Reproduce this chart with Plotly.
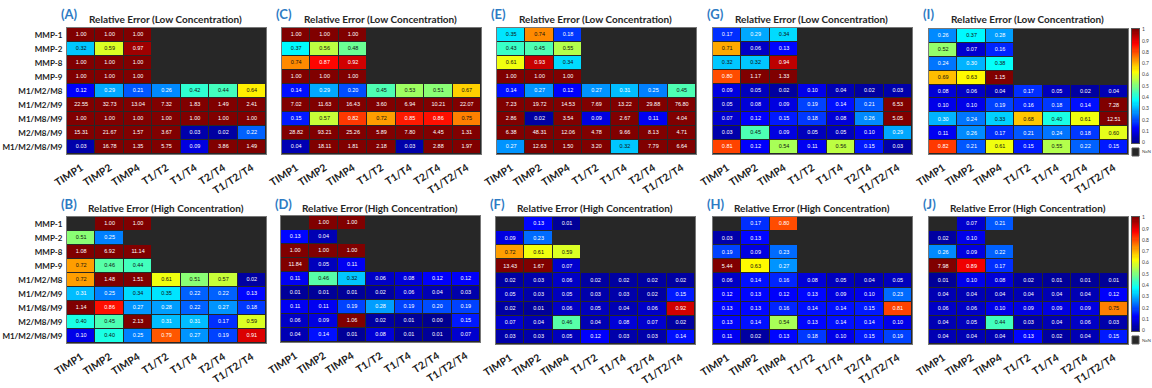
import plotly.graph_objects as go

W, H = 1152, 388

rows = ["MMP-1", "MMP-2", "MMP-8", "MMP-9", "M1/M2/M8", "M1/M2/M9",
        "M1/M8/M9", "M2/M8/M9", "M1/M2/M8/M9"]
cols = ["TIMP1", "TIMP2", "TIMP4", "T1/T2", "T1/T4", "T2/T4", "T1/T2/T4"]
N = None

panel_A = [
    [1.00, 1.00, 1.00, N, N, N, N],
    [0.32, 0.59, 0.97, N, N, N, N],
    [1.00, 1.00, 1.00, N, N, N, N],
    [1.00, 1.00, 1.00, N, N, N, N],
    [0.12, 0.29, 0.21, 0.26, 0.42, 0.44, 0.64],
    [22.55, 32.73, 13.04, 7.32, 1.83, 1.49, 2.41],
    [1.00, 1.00, 1.00, 1.00, 1.00, 1.00, 1.00],
    [15.31, 21.67, 1.57, 3.67, 0.03, 0.02, 0.22],
    [0.03, 16.78, 1.35, 5.75, 0.09, 3.86, 1.49],
]
panel_C = [
    [1.00, 1.00, 1.00, N, N, N, N],
    [0.37, 0.56, 0.48, N, N, N, N],
    [0.74, 0.87, 0.92, N, N, N, N],
    [1.00, 1.00, 1.00, N, N, N, N],
    [0.14, 0.29, 0.20, 0.45, 0.53, 0.51, 0.67],
    [7.02, 11.63, 16.43, 3.60, 6.94, 10.21, 22.07],
    [0.15, 0.57, 0.82, 0.72, 0.85, 0.86, 0.75],
    [28.82, 93.21, 25.26, 5.89, 7.80, 4.45, 1.31],
    [0.04, 18.11, 1.81, 2.18, 0.03, 2.88, 1.97],
]
panel_E = [
    [0.35, 0.74, 0.18, N, N, N, N],
    [0.43, 0.45, 0.55, N, N, N, N],
    [0.61, 0.93, 0.34, N, N, N, N],
    [1.00, 1.00, 1.00, N, N, N, N],
    [0.14, 0.27, 0.12, 0.27, 0.31, 0.25, 0.45],
    [7.23, 19.72, 14.53, 7.69, 13.22, 29.88, 76.80],
    [2.86, 0.02, 3.54, 0.09, 2.67, 0.11, 4.04],
    [6.38, 48.31, 12.06, 4.78, 9.66, 8.13, 4.71],
    [0.27, 12.63, 1.50, 3.20, 0.32, 7.79, 6.64],
]
panel_G = [
    [0.17, 0.29, 0.34, N, N, N, N],
    [0.71, 0.06, 0.13, N, N, N, N],
    [0.32, 0.32, 0.94, N, N, N, N],
    [0.80, 1.17, 1.33, N, N, N, N],
    [0.09, 0.05, 0.02, 0.10, 0.04, 0.02, 0.03],
    [0.05, 0.08, 0.09, 0.19, 0.14, 0.21, 6.53],
    [0.07, 0.12, 0.15, 0.18, 0.08, 0.26, 5.05],
    [0.03, 0.45, 0.09, 0.05, 0.05, 0.10, 0.29],
    [0.81, 0.12, 0.54, 0.11, 0.56, 0.15, 0.03],
]
panel_I = [
    [0.26, 0.37, 0.28, N, N, N, N],
    [0.52, 0.07, 0.16, N, N, N, N],
    [0.24, 0.30, 0.38, N, N, N, N],
    [0.69, 0.63, 1.15, N, N, N, N],
    [0.08, 0.06, 0.04, 0.17, 0.05, 0.02, 0.04],
    [0.10, 0.10, 0.19, 0.16, 0.18, 0.14, 7.28],
    [0.30, 0.24, 0.33, 0.68, 0.40, 0.61, 12.51],
    [0.11, 0.26, 0.17, 0.21, 0.24, 0.18, 0.60],
    [0.82, 0.21, 0.61, 0.15, 0.55, 0.22, 0.15],
]
panel_B = [
    [N, 1.00, 1.00, N, N, N, N],
    [0.51, 0.25, N, N, N, N, N],
    [1.08, 6.92, 11.14, N, N, N, N],
    [0.72, 0.46, 0.44, N, N, N, N],
    [0.72, 1.48, 1.51, 0.61, 0.51, 0.57, 0.02],
    [0.31, 0.25, 0.34, 0.35, 0.22, 0.22, 0.13],
    [1.14, 0.86, 0.27, 0.28, 0.22, 0.27, 0.18],
    [0.40, 0.45, 2.13, 0.31, 0.31, 0.17, 0.59],
    [0.10, 0.40, 0.25, 0.79, 0.27, 0.19, 0.91],
]
panel_D = [
    [N, 1.00, 1.00, N, N, N, N],
    [0.13, 0.04, N, N, N, N, N],
    [1.00, 1.00, 1.00, N, N, N, N],
    [11.84, 0.05, 0.11, N, N, N, N],
    [0.11, 0.46, 0.32, 0.06, 0.08, 0.12, 0.12],
    [0.01, 0.01, 0.01, 0.02, 0.06, 0.04, 0.03],
    [0.11, 0.11, 0.19, 0.28, 0.19, 0.20, 0.19],
    [0.06, 0.09, 1.06, 0.02, 0.01, 0.00, 0.15],
    [0.04, 0.14, 0.01, 0.08, 0.01, 0.01, 0.07],
]
panel_F = [
    [N, 0.13, 0.01, N, N, N, N],
    [0.09, 0.23, N, N, N, N, N],
    [0.72, 0.61, 0.59, N, N, N, N],
    [13.43, 1.67, 0.07, N, N, N, N],
    [0.02, 0.03, 0.06, 0.02, 0.02, 0.02, 0.02],
    [0.05, 0.03, 0.05, 0.03, 0.03, 0.02, 0.15],
    [0.02, 0.01, 0.06, 0.05, 0.04, 0.06, 0.92],
    [0.07, 0.04, 0.46, 0.04, 0.08, 0.07, 0.02],
    [0.03, 0.03, 0.05, 0.12, 0.03, 0.03, 0.14],
]
panel_H = [
    [N, 0.17, 0.80, N, N, N, N],
    [0.03, 0.13, N, N, N, N, N],
    [0.19, 0.09, 0.23, N, N, N, N],
    [5.44, 0.63, 0.27, N, N, N, N],
    [0.06, 0.14, 0.16, 0.08, 0.05, 0.04, 0.05],
    [0.12, 0.13, 0.12, 0.13, 0.09, 0.10, 0.23],
    [0.13, 0.13, 0.16, 0.14, 0.14, 0.15, 0.81],
    [0.13, 0.14, 0.54, 0.13, 0.14, 0.14, 0.10],
    [0.11, 0.02, 0.13, 0.18, 0.10, 0.15, 0.19],
]
panel_J = [
    [N, 0.07, 0.21, N, N, N, N],
    [0.02, 0.10, N, N, N, N, N],
    [0.26, 0.09, 0.22, N, N, N, N],
    [7.98, 0.89, 0.17, N, N, N, N],
    [0.01, 0.10, 0.08, 0.02, 0.01, 0.01, 0.01],
    [0.04, 0.04, 0.04, 0.04, 0.04, 0.04, 0.12],
    [0.06, 0.06, 0.10, 0.09, 0.09, 0.09, 0.75],
    [0.04, 0.05, 0.44, 0.03, 0.04, 0.06, 0.03],
    [0.04, 0.04, 0.04, 0.13, 0.02, 0.04, 0.15],
]

cb_ticks = [0, 0.1, 0.2, 0.3, 0.4, 0.5, 0.6, 0.7, 0.8, 0.9, 1]

# (letter, title, data, x pixel range, y pixel range, show y labels, show colorbar)
panels = [
    ("(A)", "Relative Error (Low Concentration)", panel_A, (67, 266), (28, 154), True, False),
    ("(C)", "Relative Error (Low Concentration)", panel_C, (282, 481), (28, 154), False, False),
    ("(E)", "Relative Error (Low Concentration)", panel_E, (497, 696), (28, 154), False, False),
    ("(G)", "Relative Error (Low Concentration)", panel_G, (713, 912), (28, 154), False, False),
    ("(I)", "Relative Error (Low Concentration)", panel_I, (929, 1128), (29, 154), False, True),
    ("(B)", "Relative Error (High Concentration)", panel_B, (67, 266), (217, 343), True, False),
    ("(D)", "Relative Error (High Concentration)", panel_D, (281, 480), (216, 342), False, False),
    ("(F)", "Relative Error (High Concentration)", panel_F, (496, 695), (217, 344), False, False),
    ("(H)", "Relative Error (High Concentration)", panel_H, (713, 912), (217, 344), False, False),
    ("(J)", "Relative Error (High Concentration)", panel_J, (929, 1128), (217, 344), False, True),
]

jet = [
    [0.0, "rgb(0,0,143)"],
    [0.125, "rgb(0,0,255)"],
    [0.375, "rgb(0,255,255)"],
    [0.625, "rgb(255,255,0)"],
    [0.875, "rgb(255,0,0)"],
    [1.0, "rgb(128,0,0)"],
]


def jet_rgb(v):
    v = max(0.0, min(1.0, v))
    for (p0, c0), (p1, c1) in zip(jet[:-1], jet[1:]):
        if p0 <= v <= p1:
            a = [int(x) for x in c0[4:-1].split(",")]
            b = [int(x) for x in c1[4:-1].split(",")]
            t = (v - p0) / (p1 - p0)
            return [a[i] + (b[i] - a[i]) * t for i in range(3)]
    return [128, 0, 0]


NAN_COLOR = "#272727"
FONT = "Lato"
CB_X = 1132

fig = go.Figure()
layout = dict(
    width=W, height=H, margin=dict(l=0, r=0, t=0, b=0, autoexpand=False),
    paper_bgcolor="white", plot_bgcolor=NAN_COLOR, showlegend=False,
    annotations=[], shapes=[],
)

for i, (letter, title, data, xr, yr, ylab, cbar) in enumerate(panels):
    k = i + 1
    xa = "x" if k == 1 else f"x{k}"
    ya = "y" if k == 1 else f"y{k}"
    xd = [xr[0] / W, xr[1] / W]
    yd = [1 - yr[1] / H, 1 - yr[0] / H]

    fig.add_trace(go.Heatmap(
        z=data, x=cols, y=rows, xaxis=xa, yaxis=ya,
        zmin=0, zmax=1, colorscale=jet, xgap=1, ygap=1,
        hoverongaps=False, showscale=False,
    ))

    tx, ty, tt, tc = [], [], [], []
    for r, row in enumerate(data):
        for c, v in enumerate(row):
            if v is None:
                continue
            rgb = jet_rgb(v)
            lum = (0.299 * rgb[0] + 0.587 * rgb[1] + 0.114 * rgb[2]) / 255
            tx.append(cols[c])
            ty.append(rows[r])
            tt.append(f"{v:.2f}")
            tc.append("#111" if lum > 0.55 else "white")
    fig.add_trace(go.Scatter(
        x=tx, y=ty, text=tt, mode="text", xaxis=xa, yaxis=ya,
        textfont=dict(size=5.5, color=tc, family="Liberation Sans"),
        hoverinfo="skip",
    ))

    layout["xaxis" if k == 1 else f"xaxis{k}"] = dict(
        domain=xd, anchor=ya, type="category", range=[-0.5, 6.5],
        tickangle=-33, showgrid=False, zeroline=False, ticks="",
        ticklabelstandoff=3, automargin=False,
        tickfont=dict(size=10.3, color="#1a1a1a", family=FONT, weight="bold"),
        showline=True, linecolor="#777", linewidth=1, mirror=True,
        fixedrange=True,
    )
    layout["yaxis" if k == 1 else f"yaxis{k}"] = dict(
        domain=yd, anchor=xa, type="category", range=[8.5, -0.5],
        showticklabels=ylab, showgrid=False, zeroline=False, ticks="",
        automargin=False, ticklabelstandoff=2,
        tickfont=dict(size=8, color="#1a1a1a", family=FONT, weight="bold"),
        showline=True, linecolor="#777", linewidth=1, mirror=True,
        fixedrange=True,
    )

    cx = (xr[0] + xr[1]) / 2
    top_row = yr[0] < 100
    title_y = 19 if top_row else 208
    letter_y = 14 if top_row else 204
    layout["annotations"].append(dict(
        text=f"<b>{title}</b>", x=(cx - 1) / W, y=1 - title_y / H,
        xref="paper", yref="paper", xanchor="center", yanchor="middle",
        showarrow=False, font=dict(size=10, color="#262626", family=FONT),
    ))
    layout["annotations"].append(dict(
        text=f"<b>{letter}</b>", x=(xr[0] - 8) / W, y=1 - letter_y / H,
        xref="paper", yref="paper", xanchor="left", yanchor="middle",
        showarrow=False, font=dict(size=13, color="#2E7BC4", family=FONT),
    ))

    if cbar:
        cb_top = yr[0]
        cb_bot = yr[0] + 114
        cbx = "x" + str(20 + k)
        cby = "y" + str(20 + k)
        levels = [j / 100 for j in range(101)]
        fig.add_trace(go.Heatmap(
            z=[[t] for t in levels], y=levels, x=[0],
            zmin=0, zmax=1, colorscale=jet, showscale=False,
            xaxis=cbx, yaxis=cby, hoverinfo="skip",
        ))
        layout["xaxis" + str(20 + k)] = dict(
            domain=[CB_X / W, (CB_X + 7) / W], anchor=cby, automargin=False,
            showticklabels=False, showgrid=False, zeroline=False, ticks="",
            showline=True, linecolor="#555", mirror=True, fixedrange=True,
        )
        layout["yaxis" + str(20 + k)] = dict(
            domain=[1 - cb_bot / H, 1 - cb_top / H], anchor=cbx, side="right",
            range=[-0.005, 1.005], tickvals=cb_ticks, automargin=False,
            ticktext=[f"{t:g}" for t in cb_ticks], ticks="",
            tickfont=dict(size=5, color="#444", family=FONT),
            showgrid=False, zeroline=False, ticklabelstandoff=1,
            showline=True, linecolor="#555", mirror=True, fixedrange=True,
        )
        nb_top = yr[0] + 119
        layout["shapes"].append(dict(
            type="rect", xref="paper", yref="paper",
            x0=CB_X / W, x1=(CB_X + 7) / W, y0=1 - (nb_top + 8) / H, y1=1 - nb_top / H,
            fillcolor=NAN_COLOR, line=dict(color="#555", width=1),
        ))
        layout["annotations"].append(dict(
            text="NaN", x=(CB_X + 8) / W, y=1 - (nb_top + 4) / H,
            xref="paper", yref="paper", xanchor="left", yanchor="middle",
            showarrow=False, font=dict(size=4.5, color="#444", family=FONT),
        ))

fig.update_layout(**layout)
fig.write_html(
    "out.html",
    config={"displayModeBar": False},
    post_script="document.body.style.margin='0';document.body.style.padding='0';"
                "document.body.style.overflow='hidden';",
)
